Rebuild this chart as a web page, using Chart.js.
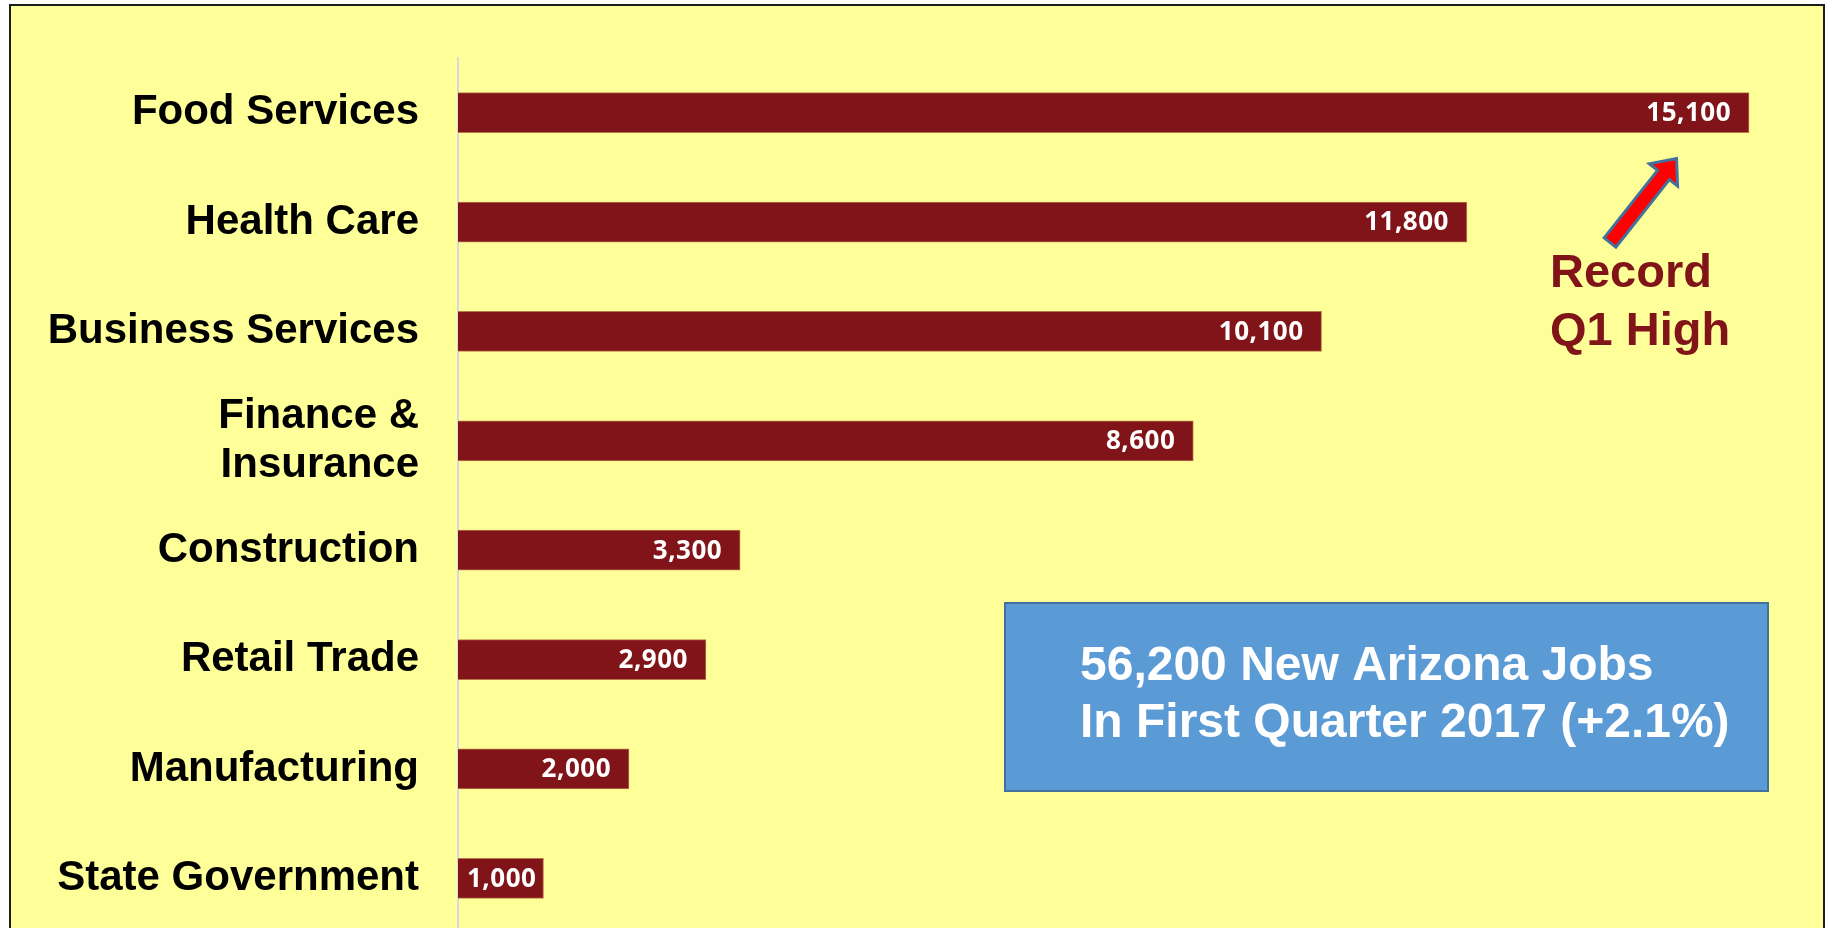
<!DOCTYPE html>
<html>
<head>
<meta charset="utf-8">
<script src="https://cdn.jsdelivr.net/npm/chart.js@4.4.1/dist/chart.umd.min.js"></script>
<style>
  html, body { margin: 0; padding: 0; background: #fff; overflow: hidden; }
  #frame {
    position: absolute; left: 9px; top: 4px; width: 1816px; height: 1000px;
    box-sizing: border-box; border: 2px solid #1c1c1c; background: #FFFF99;
  }
  #chart { position: absolute; left: 0; top: 0; }
</style>
</head>
<body>
<div id="frame"></div>
<canvas id="chart" width="1831" height="940"></canvas>
<script>
// Q1 2017 job gains by industry, Arizona
const industries = [
    'Food Services',
    'Health Care',
    'Business Services',
    ['Finance &', 'Insurance'],
    'Construction',
    'Retail Trade',
    'Manufacturing',
    'State Government'
];
const jobs = [15100, 11800, 10100, 8600, 3300, 2900, 2000, 1000];

const calloutLines = ['Record', 'Q1 High'];
const boxLines = ['56,200 New Arizona Jobs', 'In First Quarter 2017 (+2.1%)'];

const barColor = '#801418';

// white value labels inside the end of each bar
const valueLabels = {
    id: 'valueLabels',
    afterDatasetsDraw(chart) {
        const ctx = chart.ctx;
        const meta = chart.getDatasetMeta(0);
        ctx.save();
        ctx.font = 'bold 26px "Open Sans"';
        ctx.letterSpacing = '0.5px';
        ctx.fillStyle = '#ffffff';
        ctx.textAlign = 'right';
        ctx.textBaseline = 'middle';
        meta.data.forEach((bar, i) => {
            const text = jobs[i].toLocaleString('en-US');
            const w = ctx.measureText(text).width;
            const x = Math.max(bar.x - 18, bar.base + 9 + w);
            ctx.fillText(text, x, bar.y + 1);
        });
        ctx.restore();
    }
};

// arrow, "Record Q1 High" note and the blue summary box
const annotations = {
    id: 'annotations',
    afterDraw(chart) {
        const ctx = chart.ctx;
        ctx.save();

        // arrow
        const tail = [1610, 242.5], tip = [1676.5, 158.5];
        const dx = tip[0] - tail[0], dy = tip[1] - tail[1];
        const len = Math.hypot(dx, dy);
        const ux = dx / len, uy = dy / len;
        const nx = -uy, ny = ux;
        const shaft = 7.5, head = 18, headLen = 21;
        const pt = (a, b) => [tail[0] + ux * a + nx * b, tail[1] + uy * a + ny * b];
        const pts = [
            pt(0, -shaft), pt(len - headLen, -shaft), pt(len - headLen, -head),
            pt(len, 0),
            pt(len - headLen, head), pt(len - headLen, shaft), pt(0, shaft)
        ];
        ctx.beginPath();
        pts.forEach((p, i) => i ? ctx.lineTo(p[0], p[1]) : ctx.moveTo(p[0], p[1]));
        ctx.closePath();
        ctx.fillStyle = '#FF0000';
        ctx.fill();
        ctx.lineWidth = 3;
        ctx.lineJoin = 'miter';
        ctx.strokeStyle = '#41719C';
        ctx.stroke();

        // callout text
        ctx.font = 'bold 47px "Liberation Sans"';
        ctx.fillStyle = barColor;
        ctx.textAlign = 'left';
        ctx.textBaseline = 'alphabetic';
        ctx.fillText(calloutLines[0], 1550, 287);
        ctx.fillText(calloutLines[1], 1550, 345);

        // summary box
        ctx.fillStyle = '#5B9BD5';
        ctx.fillRect(1005, 603, 763, 188);
        ctx.lineWidth = 2;
        ctx.strokeStyle = '#41719C';
        ctx.strokeRect(1005, 603, 763, 188);
        ctx.font = 'bold 48px "Liberation Sans"';
        ctx.fillStyle = '#ffffff';
        ctx.fillText(boxLines[0], 1080, 680);
        ctx.fillText(boxLines[1], 1080, 737);

        ctx.restore();
    }
};

const ctx = document.getElementById('chart').getContext('2d');

new Chart(ctx, {
    type: 'bar',
    data: {
        labels: industries,
        datasets: [{
            data: jobs,
            backgroundColor: barColor,
            borderColor: '#B9774C',
            borderWidth: 1,
            barThickness: 40
        }]
    },
    options: {
        indexAxis: 'y',
        responsive: false,
        animation: false,
        devicePixelRatio: 1,
        layout: { padding: { top: 58, bottom: 7, left: 0, right: 5 } },
        plugins: {
            legend: { display: false },
            tooltip: { enabled: false }
        },
        scales: {
            x: {
                display: false,
                min: 0,
                max: 16000
            },
            y: {
                grid: { display: false, drawTicks: false },
                border: { display: true, color: '#D8D8E4', width: 2 },
                ticks: {
                    color: '#000000',
                    padding: 39,
                    font: { family: '"Liberation Sans", Arial, sans-serif', size: 42, weight: 'bold', lineHeight: 1.17 }
                },
                afterFit(scale) {
                    scale.width = 458;
                    scale.paddingTop = 0;
                    scale.paddingBottom = 0;
                }
            }
        }
    },
    plugins: [valueLabels, annotations]
});
</script>
</body>
</html>
